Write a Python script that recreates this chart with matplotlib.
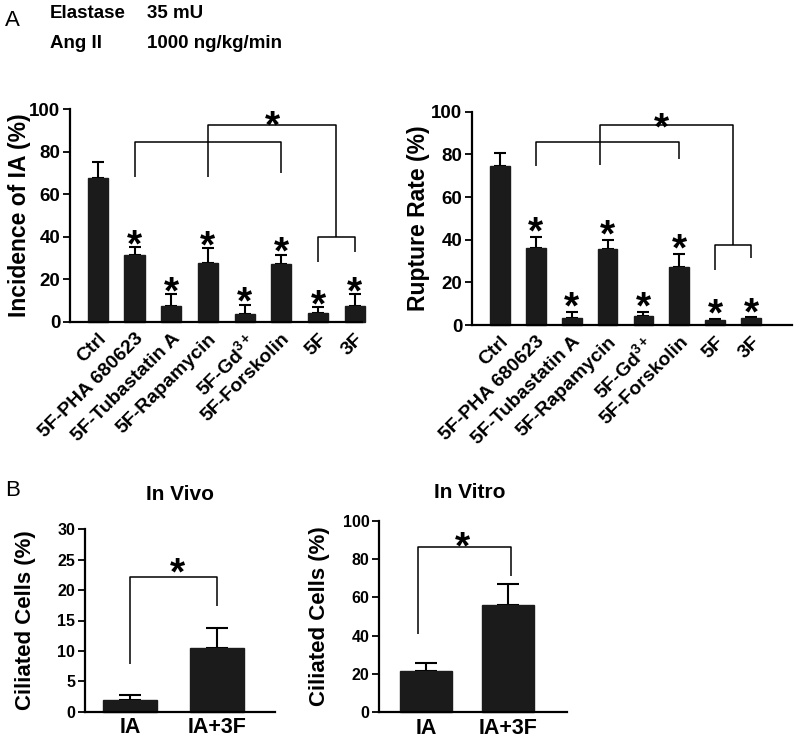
import matplotlib
matplotlib.use("Agg")
import matplotlib.pyplot as plt
import numpy as np

plt.rcParams['font.family'] = ['Liberation Sans', 'DejaVu Sans']
plt.rcParams['font.weight'] = 'bold'
plt.rcParams['mathtext.fontset'] = 'custom'
plt.rcParams['mathtext.rm'] = 'Liberation Sans:bold'
plt.rcParams['mathtext.bf'] = 'Liberation Sans:bold'
plt.rcParams['mathtext.it'] = 'Liberation Sans:bold'

# ---------------- data ----------------
categories = ['Ctrl', '5F-PHA 680623', '5F-Tubastatin A', '5F-Rapamycin',
              r'5F-Gd$^{3+}$', '5F-Forskolin', '5F', '3F']
incidence = [67.6, 31.4, 7.7, 27.8, 3.8, 27.2, 4.2, 7.7]
incidence_sem = [7.6, 3.6, 5.3, 6.9, 4.2, 4.3, 2.8, 5.3]
rupture = [74.5, 36.0, 3.2, 35.5, 4.2, 27.0, 2.3, 3.2]
rupture_sem = [6.0, 5.4, 3.0, 4.3, 2.0, 6.3, 0.5, 0.4]
star_groups = [1, 2, 3, 4, 5, 6, 7]

b_categories = ['IA', 'IA+3F']
invivo = [2.0, 10.5]
invivo_sem = [0.7, 3.2]
invitro = [21.7, 56.0]
invitro_sem = [3.8, 11.0]

BAR = '#1b1b1b'
W, H = 800, 751
fig = plt.figure(figsize=(W / 100, H / 100), dpi=100)


def rect(x0, x1, ytop, ybot):
    return [x0 / W, 1 - ybot / H, (x1 - x0) / W, (ybot - ytop) / H]


def style(ax, tick_fs):
    for s in ['top', 'right']:
        ax.spines[s].set_visible(False)
    for s in ['left', 'bottom']:
        ax.spines[s].set_linewidth(1.6)
    ax.tick_params(axis='y', direction='out', length=5, width=1.3,
                   labelsize=tick_fs, pad=2)
    ax.tick_params(axis='x', length=0)
    for lab in ax.get_yticklabels():
        lab.set_fontweight('bold')


def bars(ax, vals, sems, width, cap):
    x = np.arange(len(vals))
    ax.bar(x, vals, width=width, color=BAR, edgecolor=BAR, zorder=2, clip_on=False)
    ax.errorbar(x, vals, yerr=[np.zeros(len(vals)), sems], fmt='none',
                ecolor='black', elinewidth=1.5, capsize=cap, capthick=1.5,
                zorder=1, clip_on=False)
    return x


def star(ax, x, y, fs=28):
    ax.annotate('*', xy=(x, y), xytext=(0, -0.56 * fs), textcoords='offset points',
                ha='center', va='baseline', fontsize=fs, fontweight='bold',
                annotation_clip=False)


def line(ax, xs, ys):
    ax.plot(xs, ys, color='black', lw=1.1, clip_on=False, solid_capstyle='butt')


# ---------------- Panel A left ----------------
ax1 = fig.add_axes(rect(70, 362, 109, 322))
x = bars(ax1, incidence, incidence_sem, 0.55, 4)
ax1.set_xlim(-0.76, 7.2)
ax1.set_ylim(0, 100)
ax1.set_yticks([0, 20, 40, 60, 80, 100])
style(ax1, 13.5)
ax1.set_xticks(x)
ax1.set_xticklabels(categories, rotation=45, ha='right', rotation_mode='anchor',
                    fontsize=14, fontweight='bold')
ax1.tick_params(axis='x', pad=6)
ax1.set_ylabel('Incidence of IA (%)', fontsize=16.5, fontweight='bold')
ax1.yaxis.set_label_coords((31 - 70) / 292, 0.5)
for i in star_groups:
    star(ax1, x[i], incidence[i] + incidence_sem[i] + 6)
line(ax1, [1, 1, 5, 5], [68, 84.6, 84.6, 70])
line(ax1, [3, 3, 6.5, 6.5], [68, 92.5, 92.5, 40])
line(ax1, [6, 6, 7, 7], [28, 40, 40, 33])
star(ax1, 4.75, 97)

# ---------------- Panel A right ----------------
ax2 = fig.add_axes(rect(472, 792, 111.7, 325))
x = bars(ax2, rupture, rupture_sem, 0.55, 4)
ax2.set_xlim(-0.78, 8.14)
ax2.set_ylim(0, 100)
ax2.set_yticks([0, 20, 40, 60, 80, 100])
style(ax2, 13.5)
ax2.set_xticks(x)
ax2.set_xticklabels(categories, rotation=45, ha='right', rotation_mode='anchor',
                    fontsize=14, fontweight='bold')
ax2.tick_params(axis='x', pad=6)
ax2.set_ylabel('Rupture Rate (%)', fontsize=16.5, fontweight='bold')
ax2.yaxis.set_label_coords((430 - 472) / 320, 0.5)
for i in star_groups:
    star(ax2, x[i], rupture[i] + rupture_sem[i] + 7)
line(ax2, [1, 1, 5, 5], [74.5, 85.6, 85.6, 78])
line(ax2, [2.8, 2.8, 6.5, 6.5], [75, 93.7, 93.7, 37.5])
line(ax2, [6, 6, 7, 7], [25.8, 37.5, 37.5, 31.4])
star(ax2, 4.5, 97)

# ---------------- Panel B left ----------------
ax3 = fig.add_axes(rect(85, 275, 529.3, 711.7))
x = bars(ax3, invivo, invivo_sem, 0.61, 8)
ax3.set_xlim(-0.517, 1.667)
ax3.set_ylim(0, 30)
ax3.set_yticks([0, 5, 10, 15, 20, 25, 30])
style(ax3, 11.5)
ax3.set_xticks(x)
ax3.set_xticklabels(b_categories, fontsize=15.5, fontweight='bold')
ax3.tick_params(axis='x', pad=4)
ax3.set_ylabel('Ciliated Cells (%)', fontsize=16, fontweight='bold')
ax3.yaxis.set_label_coords((36 - 85) / 190, 0.5)
line(ax3, [0, 0, 1, 1], [7.8, 22.2, 22.2, 17.4])
star(ax3, 0.55, 24.5)

# ---------------- Panel B right ----------------
ax4 = fig.add_axes(rect(379, 567, 520.7, 712.3))
x = bars(ax4, invitro, invitro_sem, 0.634, 8)
ax4.set_xlim(-0.573, 1.72)
ax4.set_ylim(0, 100)
ax4.set_yticks([0, 20, 40, 60, 80, 100])
style(ax4, 11.5)
ax4.set_xticks(x)
ax4.set_xticklabels(b_categories, fontsize=15.5, fontweight='bold')
ax4.tick_params(axis='x', pad=4)
ax4.set_ylabel('Ciliated Cells (%)', fontsize=16, fontweight='bold')
ax4.yaxis.set_label_coords((330 - 379) / 188, 0.5)
line(ax4, [-0.1, -0.1, 1.04, 1.04], [41, 86.5, 86.5, 71])
star(ax4, 0.45, 91.4)

# ---------------- figure texts ----------------
fig.text(12 / W, 1 - 20 / H, 'A', fontsize=16, fontweight='normal', ha='center', va='center')
fig.text(13 / W, 1 - 491 / H, 'B', fontsize=16, fontweight='normal', ha='center', va='center')
fig.text(180 / W, 1 - 495 / H, 'In Vivo', fontsize=15, fontweight='bold', ha='center', va='center')
fig.text(470 / W, 1 - 492 / H, 'In Vitro', fontsize=15, fontweight='bold', ha='center', va='center')
fig.text(50 / W, 1 - 14 / H, 'Elastase', fontsize=13.5, fontweight='bold', va='center')
fig.text(147 / W, 1 - 14 / H, '35 mU', fontsize=13.5, fontweight='bold', va='center')
fig.text(50 / W, 1 - 43 / H, 'Ang II', fontsize=13.5, fontweight='bold', va='center')
fig.text(147 / W, 1 - 43 / H, '1000 ng/kg/min', fontsize=13.5, fontweight='bold', va='center')

fig.savefig('out.png', dpi=100)
